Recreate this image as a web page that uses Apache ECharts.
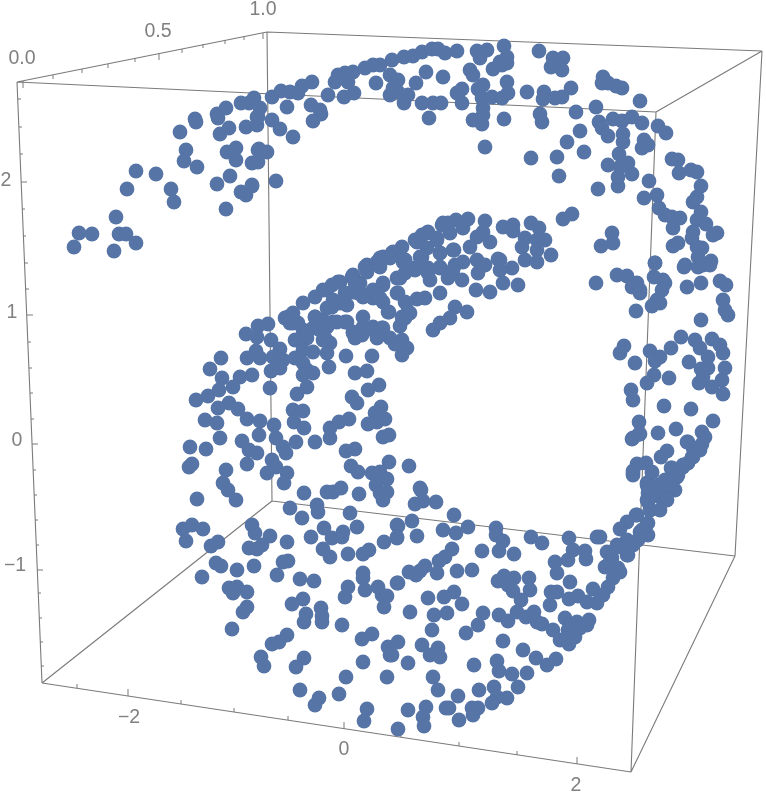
<!DOCTYPE html>
<html><head><meta charset="utf-8">
<script src="https://cdn.jsdelivr.net/npm/echarts@6/dist/echarts.min.js"></script>
<style>html,body{margin:0;padding:0;background:#fff}#c{width:766px;height:800px}</style></head>
<body><div id="c"></div>
<script>
// Projected positions (screen plane of the 3D view).
const projectedPoints = [
[74,247],[79,233],[92,234],[114,251],[116,217],[119,234],[126,234],[136,243],[127,189],[136,171],[156,174],[171,189],[174,202],[180,132],[186,150],[184,161],[197,167],[195,119],[196,122],[217,184],[230,176],[226,209],[241,192],[246,195],[252,185],[217,114],[218,118],[226,108],[220,134],[229,128],[246,127],[227,152],[236,148],[236,160],[252,163],[241,103],[249,103],[254,98],[258,150],[257,117],[257,125],
[260,108],[258,117],[272,120],[280,129],[293,137],[259,149],[267,152],[258,162],[252,186],[276,181],
[272,97],[281,91],[290,92],[298,93],[287,107],[302,86],[312,82],[311,105],[320,110],[321,114],[313,121],[328,95],[335,82],[338,75],[344,97],[354,93],[345,73],[353,72],[348,82],[365,68],[373,65],[380,65],[376,83],[390,75],[398,80],[392,60],[404,57],[413,56],[422,52],[432,49],[438,49],[445,53],[457,51],[477,51],[487,50],[480,58],[504,46],[426,72],[443,77],[416,83],[470,70],[473,75],[493,69],[500,62],[507,63],[483,85],[478,89],[507,82],[462,89],[457,93],[462,103],[482,98],[492,97],[502,98],[483,108],[473,120],[482,124],[483,115],[504,119],[485,147],[429,118],[422,103],[433,103],[441,103],[404,103],[408,95],[390,95],[393,88],[398,92],
[507,57],[502,65],[539,51],[553,58],[563,58],[551,67],[562,70],[508,93],[527,92],[544,92],[543,99],[555,98],[562,97],[571,88],[603,77],[602,83],[608,83],[616,86],[622,88],[640,101],[596,107],[576,112],[540,114],[542,122],[599,122],[613,119],[622,121],[632,117],[642,123],[602,128],[608,136],[580,131],[623,134],[623,142],[567,142],[584,152],[557,157],[531,158],[619,154],[644,140],[648,145],[642,148],[658,126],[666,133],[672,159],[678,160],[679,173],[691,170],[697,172],[701,186],[697,197],[693,202],[701,212],[608,165],[628,163],[620,167],[632,174],[618,177],[618,186],[598,189],[559,176],[649,181],[657,195],[644,198],[659,208],[665,215],[672,217],[680,218],[673,228],[697,220],[706,224],[693,232],[717,233],[713,235],[692,238],[678,243],[673,246],[697,247],[702,248],[698,257],[711,261],[703,265],[685,265],[655,263],[563,219],[572,214],[612,233],[613,243],[601,246],[551,255],
[503,227],[513,225],[513,231],[531,223],[539,228],[545,240],[525,238],[522,247],[537,240],[537,250],[525,260],[537,262],[512,268],[500,260],
[448,223],[456,220],[468,219],[442,225],[463,228],[450,233],[485,221],[483,232],[490,242],[477,237],[428,232],[422,235],[437,238],[417,242],[454,250],[470,247],[477,260],[498,259],[485,265],[463,262],[455,265],[427,248],[420,257],[440,253],[402,247],[405,260],[393,252],[383,257],[377,262],[367,265],[415,268],[428,268],[440,268],
[221,358],[210,369],[246,334],[258,326],[268,324],[257,337],[271,340],[285,318],[293,313],[303,303],[315,297],[323,290],[332,285],[340,282],[353,275],[367,270],[380,267],[403,262],[417,268],[400,278],[383,283],[373,290],[360,283],[353,292],[340,303],[332,307],[347,305],[363,297],[383,302],[398,293],[417,299],[406,303],[389,312],[410,313],[405,318],[400,326],[402,340],[395,344],[407,348],[402,355],[363,317],[373,327],[382,328],[362,335],[353,333],[380,335],[345,322],[315,317],[323,320],[333,322],[327,327],[303,330],[313,328],[295,340],[307,338],[325,338],[330,343],[327,353],[313,352],[303,350],[293,323],[280,349],[256,351],[247,358],[260,358],[273,357],[283,360],[295,358],[303,363],[280,368],[271,371],[307,370],[303,375],[313,373],[329,367],[346,356],[372,356],[355,373],[367,371],[379,385],[368,390],[352,397],[357,403],[252,375],[240,377],[222,378],[233,387],[219,390],[208,396],[196,400],[270,388],[307,387],[297,394],[229,403],[218,408],[238,409],[205,420],[217,423],[247,419],[260,421],[274,425],[293,410],[303,411],[294,422],[304,428],[259,435],[276,438],[220,438],[242,441],[296,442],[315,442],[330,428],[339,422],[349,419],[330,438],[381,407],[375,413],[385,419],[368,424],[377,422],[383,437],[389,435],[355,449],[346,451],[190,447],[206,449],[249,450],[257,453],[283,447],[286,453],[189,467],[192,464],[247,464],[272,460],[276,467],[267,473],[287,473],[284,483],[226,470],[223,483],[228,490],[197,499],[236,500],[304,493],[327,492],[333,492],[341,488],[359,494],[389,462],[409,466],[351,466],[358,472],[372,473],[380,472],[387,479],[376,485],[387,492],[420,488],[380,493],
[596,283],[617,275],[627,276],[637,283],[632,287],[640,290],[640,293],[636,311],[655,263],[654,277],[663,280],[665,283],[662,290],[657,300],[660,303],[652,306],[684,267],[698,267],[710,265],[687,287],[701,283],[720,281],[726,285],[723,300],[725,310],[728,315],[701,320],[681,337],[695,340],[700,348],[712,339],[720,345],[723,353],[708,357],[624,346],[620,353],[635,363],[650,351],[671,348],[660,357],[655,361],[689,362],[725,368],[701,369],[708,368],[654,375],[647,383],[669,378],[703,377],[722,380],[699,383],[712,387],[723,394],[631,390],[633,400],[664,406],[691,409],[713,421],[639,422],[639,434],[632,439],[658,433],[676,429],[702,432],[705,437],[687,442],[702,444],[693,448],[692,457],[667,451],[661,457],[637,464],[646,463],[633,471],[633,475],[652,472],[671,468],[683,467],[688,463],[677,477],[647,483],[660,485],[670,483],[675,490],[650,493],[663,493],
[647,500],[650,510],[648,523],[637,515],[627,522],[620,529],[640,532],[648,535],[633,545],[627,540],[617,545],[607,552],[627,555],[612,558],[605,567],[620,572],[613,578],[608,587],[593,589],[603,595],[597,603],[587,602],[578,596],[569,599],[570,582],[597,537],[569,538],[573,550],[585,551],[586,559],[568,560],[555,562],[557,573],[531,537],[542,543],[496,528],[496,535],[503,541],[499,551],[514,554],[482,551],[468,527],[456,533],[443,530],[454,515],[412,521],[398,526],[397,538],[417,536],[436,502],[415,504],[423,501],[421,490],
[452,549],[445,557],[439,561],[437,573],[425,566],[420,571],[409,572],[416,575],[398,583],[457,571],[472,570],[504,576],[498,581],[514,578],[529,578],[508,585],[513,591],[530,590],[521,600],[551,592],[557,592],[550,605],[454,592],[444,597],[428,598],[462,604],[447,613],[434,615],[410,612],[483,613],[478,625],[466,633],[432,630],[499,615],[508,621],[517,612],[526,617],[534,612],[537,622],[542,624],[565,618],[589,620],[577,622],[587,625],[553,630],[560,640],[568,630],[575,637],[569,644],[503,641],[523,650],[422,645],[438,648],[430,655],[440,657],[398,642],[392,655],[408,663],[474,665],[497,661],[499,671],[536,658],[547,665],[556,659],[527,673],[512,674],[518,687],[433,677],[438,690],[458,696],[479,690],[494,687],[497,697],[507,698],[492,703],[478,708],[472,708],[473,715],[449,708],[446,708],[459,720],[426,707],[423,717],[424,726],[408,710],[398,729],
[183,529],[192,525],[203,529],[186,541],[211,546],[218,542],[252,525],[255,533],[270,536],[262,545],[257,549],[249,548],[287,542],[216,563],[221,566],[237,570],[254,566],[202,577],[283,562],[288,561],[277,575],[300,579],[314,581],[229,588],[237,587],[233,593],[247,592],[247,607],[243,612],[232,629],[303,599],[292,604],[306,614],[304,622],[321,608],[322,616],[322,622],[342,625],[287,635],[279,642],[272,644],[261,657],[264,666],[304,658],[296,667],[300,690],[319,698],[315,705],[339,694],[346,677],[363,662],[362,639],[372,634],[388,647],[390,655],[387,677],[367,709],[364,721],
[290,508],[302,518],[317,505],[318,512],[350,513],[383,500],[324,528],[311,537],[332,538],[342,537],[343,532],[357,527],[384,542],[397,525],[397,537],[323,549],[330,557],[348,554],[363,554],[369,550],[363,573],[363,578],[365,590],[348,587],[345,597],[378,587],[382,595],[387,596],[384,607],[397,583],
[288,317],[327,290],[338,282],[352,277],[365,267],[380,258],[392,253],[415,240],[427,233],[443,223],[437,240],[440,253],[422,257],[405,260],[390,258],[367,272],[355,283],[358,293],[345,293],[333,300],[327,308],[315,317],[337,322],[347,322],[298,323],[290,323],[320,330],[323,340],[353,332],[363,327],[373,330],[383,328],[390,338],[388,312],[402,317],[408,312],[405,302],[397,293],[383,285],[373,298],[380,298],[365,295],[397,278],[405,273],[415,270],[428,273],[430,280],[440,267],[448,278],[453,270],[453,250],[440,293],[425,298],[455,307],[450,318],[440,323],[433,330],[355,338],[377,338],
[476,290],[490,292],[503,283],[518,285],[467,312],[462,280],[478,273],[500,270],
[633,438],[640,434],[688,442],[700,450],[693,457],[633,473],[652,473],[672,468],[683,465],[678,475],[665,480],[647,485],[657,487],[670,485],[648,493],[660,497],[667,500],[648,502],[660,510],[650,510],[636,515],[642,530],[638,540],[628,545],[628,555],[617,547],[610,562],[618,568],[600,537],[568,637],[570,625],[580,628]
];
// Box edges as [x1,y1,x2,y2] in the same projected plane.
const boxEdges = [
[17,82,267,32],[17,82,656,112],[267,32,762,51],[656,112,762,51],
[17,82,42,683],[267,32,272,501],[656,112,631,772],[762,51,735,556],
[42,683,631,772],[42,683,272,501],[272,501,735,556],[631,772,735,556]
];
// Tick marks as [x1,y1,x2,y2].
const topAxisTicks = [[23,81,23,88],[53,75,53,79],[82,69,82,73],[108,64,108,68],[135,58,135,62],[159,53,159,60],[182,49,182,53],[203,44,203,48],[225,40,225,44],[244,36,244,40],[263,33,263,39]];
const leftAxisTicks = [[18,99,21,99],[19,127,22,127],[20,154,23,154],[21,182,27,182],[22,209,25,209],[23,236,26,236],[25,263,28,263],[26,289,29,289],[27,315,33,315],[28,342,31,342],[29,368,32,368],[30,393,33,393],[31,419,34,419],[32,444,38,444],[33,470,36,470],[34,495,37,495],[35,520,38,520],[36,545,39,545],[37,570,43,570],[38,593,41,593],[39,618,42,618],[40,642,43,642],[41,666,44,666]];
const bottomAxisTicks = [[77,688,77,684],[128,696,128,689],[181,704,181,700],[234,712,234,708],[288,720,288,716],[344,729,344,722],[401,737,401,733],[459,746,459,742],[517,755,517,751],[577,764,577,757]];
// Tick labels.
const tickLabelText = ['0.0','0.5','1.0','2','1','0','\u22121','\u22122','0','2'];
const tickLabelPos = [[22,59],[158,32],[263,10],[6,181],[12,313],[17,441],[15,566],[129,718],[344,750],[576,786]];

function segments(list){
  const out=[];
  list.forEach(s=>{out.push([s[0],s[1]],[s[2],s[3]],[null,null]);});
  return out;
}
const lineBase={type:'line',symbol:'none',silent:true,animation:false,connectNulls:false,z:1};
const chart=echarts.init(document.getElementById('c'),null,{renderer:'canvas'});
chart.setOption({
  animation:false,
  backgroundColor:'#ffffff',
  grid:{left:0,right:0,top:0,bottom:0},
  xAxis:{type:'value',min:0,max:766,show:false},
  yAxis:{type:'value',min:0,max:800,inverse:true,show:false},
  series:[
    Object.assign({},lineBase,{name:'box',data:segments(boxEdges),lineStyle:{color:'#7a7a7a',width:1.1}}),
    Object.assign({},lineBase,{name:'ticks',data:segments(topAxisTicks.concat(leftAxisTicks,bottomAxisTicks)),lineStyle:{color:'#7a7a7a',width:1}}),
    {type:'scatter',name:'points',z:3,symbol:'circle',symbolSize:14.8,silent:true,data:projectedPoints,itemStyle:{color:'#5674a6',opacity:1}},
    {type:'scatter',name:'tickLabels',z:4,symbolSize:0,silent:true,
     data:tickLabelPos.map((p,i)=>({value:p,label:{formatter:tickLabelText[i]}})),
     label:{show:true,position:'inside',color:'#606060',fontFamily:'Liberation Sans',fontSize:19.5}}
  ]
});
</script></body></html>
